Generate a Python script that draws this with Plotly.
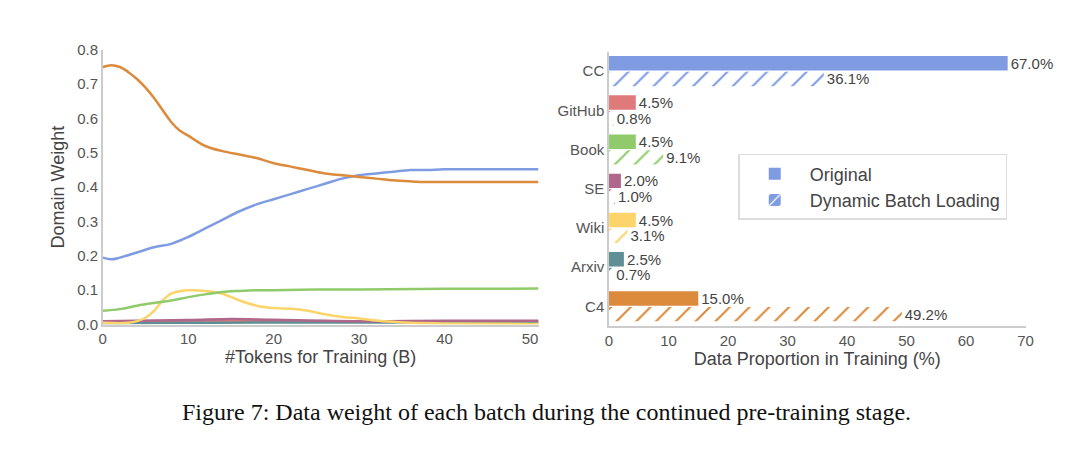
import plotly.graph_objects as go

# ---- line chart data ----
cc_x = [0,1,2,4,6,8,10,12,14,16,18,20,22,24,26,28,30,32,34,36,38,40,51]
cc_y = [0.195,0.19,0.195,0.21,0.225,0.235,0.255,0.28,0.305,0.33,0.35,0.365,0.38,0.395,0.41,0.425,0.435,0.44,0.445,0.45,0.45,0.452,0.452]
c4_x = [0,1,2,3,4,5,6,7,8,9,10,12,14,16,18,20,22,24,26,28,30,32,34,36,38,40,51]
c4_y = [0.75,0.755,0.75,0.735,0.715,0.69,0.66,0.625,0.59,0.565,0.55,0.52,0.505,0.495,0.485,0.47,0.46,0.45,0.44,0.435,0.43,0.425,0.42,0.417,0.415,0.415,0.415]
book_x = [0,2,4,6,8,10,12,14,16,18,20,25,30,40,51]
book_y = [0.04,0.045,0.055,0.063,0.07,0.08,0.088,0.095,0.098,0.1,0.1,0.102,0.102,0.104,0.105]
wiki_x = [0,3,4,5,6,7,8,9,10,12,14,16,18,20,22,24,26,28,30,32,34,36,40,51]
wiki_y = [0.005,0.005,0.01,0.02,0.04,0.07,0.09,0.097,0.1,0.098,0.09,0.07,0.055,0.048,0.046,0.04,0.03,0.022,0.018,0.012,0.008,0.005,0.003,0.002]
se_x = [0,10,15,20,30,40,51]
se_y = [0.01,0.013,0.016,0.014,0.01,0.011,0.011]
gh_x = [0,10,20,30,40,51]
gh_y = [0.008,0.01,0.01,0.009,0.009,0.009]
ax_x = [0,10,20,30,40,51]
ax_y = [0.004,0.005,0.006,0.006,0.006,0.006]

# ---- bar chart data ----
categories = ["CC", "GitHub", "Book", "SE", "Wiki", "Arxiv", "C4"]
original = [67.0, 4.5, 4.5, 2.0, 4.5, 2.5, 15.0]
dynamic = [36.1, 0.8, 9.1, 1.0, 3.1, 0.7, 49.2]

colors = {"CC": "#7f9be2", "GitHub": "#e07a7a", "Book": "#8fcb6a", "SE": "#b0678c",
          "Wiki": "#fcd46a", "Arxiv": "#5f8f95", "C4": "#dc8a3c"}
bar_colors = [colors[c] for c in categories]

fig = go.Figure()
for xs, ys, name in [(gh_x, gh_y, "GitHub"), (ax_x, ax_y, "Arxiv"), (se_x, se_y, "SE"),
                     (wiki_x, wiki_y, "Wiki"), (book_x, book_y, "Book"),
                     (cc_x, cc_y, "CC"), (c4_x, c4_y, "C4")]:
    fig.add_trace(go.Scatter(x=xs, y=ys, mode="lines", line=dict(color=colors[name], width=2.5, shape="spline"),
                             showlegend=False, xaxis="x", yaxis="y"))

fig.add_trace(go.Bar(y=categories, x=original, orientation="h", name="Original",
                     marker=dict(color=bar_colors, line=dict(width=0)),
                     text=[f"{v:.1f}%" for v in original], textposition="outside",
                     constraintext="none",
                     textfont=dict(size=15, color="#444"), cliponaxis=False,
                     xaxis="x2", yaxis="y2"))
fig.add_trace(go.Bar(y=categories, x=dynamic, orientation="h", name="Dynamic Batch Loading",
                     marker=dict(color=bar_colors, line=dict(width=0),
                                 pattern=dict(shape="/", fgcolor="white", bgcolor=bar_colors,
                                              fillmode="replace", size=14, solidity=0.15)),
                     text=[f"{v:.1f}%" for v in dynamic], textposition="outside",
                     constraintext="none",
                     textfont=dict(size=15, color="#444"), cliponaxis=False,
                     xaxis="x2", yaxis="y2"))

axfont = dict(family="Liberation Sans, Arial", size=15, color="#555")
titlefont = dict(family="Liberation Sans, Arial", size=18, color="#444")
fig.update_layout(
    width=1080, height=449, paper_bgcolor="white", plot_bgcolor="white",
    margin=dict(l=0, r=0, t=0, b=0),
    font=dict(family="Liberation Sans, Arial", color="#444"),
    barmode="group", bargap=0.2, bargroupgap=0.08,
    uniformtext=dict(minsize=15),
    xaxis=dict(domain=[0.085, 0.493], range=[0, 51], tickvals=[0,10,20,30,40,50],
               showgrid=False, zeroline=False, showline=True, linecolor="#ccc", linewidth=1.5,
               tickfont=axfont, title=dict(text="#Tokens for Training (B)", font=titlefont, standoff=4),
               anchor="y"),
    yaxis=dict(domain=[0.288, 0.924], range=[0, 0.8], tickvals=[0,0.1,0.2,0.3,0.4,0.5,0.6,0.7,0.8],
               tickformat=".1f", showgrid=False, zeroline=False, showline=True, linecolor="#ccc", linewidth=1.5,
               tickfont=axfont, title=dict(text="Domain Weight", font=titlefont, standoff=8),
               anchor="x"),
    xaxis2=dict(domain=[0.559, 0.949], range=[0, 70], tickvals=[0,10,20,30,40,50,60,70],
                showgrid=False, zeroline=False, showline=True, linecolor="#ccc", linewidth=1.5,
                tickfont=axfont, title=dict(text="Data Proportion in Training (%)", font=titlefont, standoff=4),
                anchor="y2"),
    yaxis2=dict(domain=[0.285, 0.92], autorange="reversed", showgrid=False, zeroline=False,
                showline=True, linecolor="#ccc", linewidth=1.5, tickfont=axfont, ticks="", ticklen=4,
                anchor="x2"),
    legend=dict(x=0.68, y=0.683, xanchor="left", yanchor="top", bordercolor="#ddd", borderwidth=1.5,
                font=dict(size=18, color="#444"), bgcolor="white", itemwidth=60),
    annotations=[dict(text="Figure 7: Data weight of each batch during the continued pre-training stage.",
                      x=0.5, y=1 - 415 / 449 - 0.025, xref="paper", yref="paper", showarrow=False,
                      font=dict(family="Liberation Serif, Times New Roman", size=24, color="#111"))],
)
fig.write_html("out.html")
